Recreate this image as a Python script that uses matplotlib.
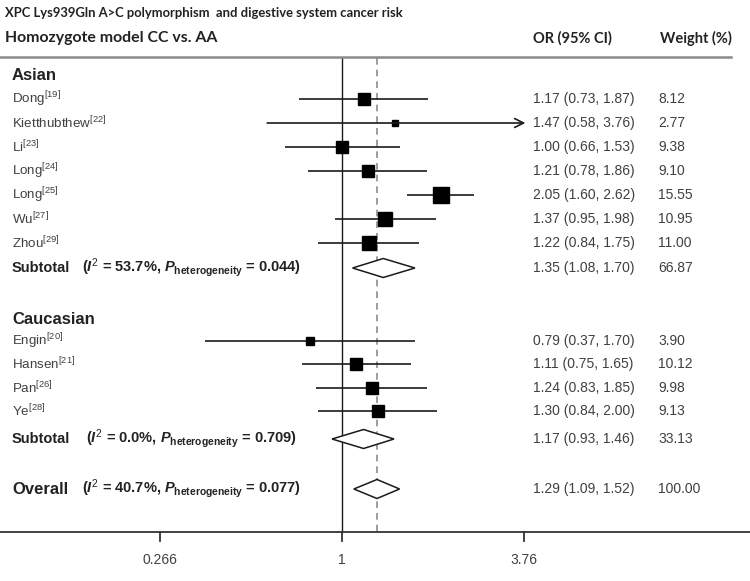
import numpy as np
import matplotlib
matplotlib.use('Agg')
import matplotlib.pyplot as plt
import matplotlib.transforms as mtransforms

plt.rcParams['font.family'] = ['Liberation Sans', 'DejaVu Sans']
plt.rcParams['mathtext.fontset'] = 'custom'
plt.rcParams['mathtext.rm'] = 'Liberation Sans'
plt.rcParams['mathtext.it'] = 'Liberation Sans:italic:bold'
plt.rcParams['mathtext.bf'] = 'Liberation Sans:bold'

# data
asian_names = ["Dong", "Kietthubthew", "Li", "Long", "Long", "Wu", "Zhou"]
asian_refs = [19, 22, 23, 24, 25, 27, 29]
asian_or = [1.17, 1.47, 1.00, 1.21, 2.05, 1.37, 1.22]
asian_lo = [0.73, 0.58, 0.66, 0.78, 1.60, 0.95, 0.84]
asian_hi = [1.87, 3.76, 1.53, 1.86, 2.62, 1.98, 1.75]
asian_wt = [8.12, 2.77, 9.38, 9.10, 15.55, 10.95, 11.00]

cauc_names = ["Engin", "Hansen", "Pan", "Ye"]
cauc_refs = [20, 21, 26, 28]
cauc_or = [0.79, 1.11, 1.24, 1.30]
cauc_lo = [0.37, 0.75, 0.83, 0.84]
cauc_hi = [1.70, 1.65, 1.85, 2.00]
cauc_wt = [3.90, 10.12, 9.98, 9.13]

# subtotal / overall: OR, lo, hi, weight, I2, P
sub_asian = [1.35, 1.08, 1.70, 66.87, "53.7", "0.044"]
sub_cauc = [1.17, 0.93, 1.46, 33.13, "0.0", "0.709"]
overall = [1.29, 1.09, 1.52, 100.00, "40.7", "0.077"]

xticks = [0.266, 1, 3.76]
xtick_labels = ["0.266", "1", "3.76"]

W, H = 750, 581
fig = plt.figure(figsize=(W / 100, H / 100), dpi=100)
ax = fig.add_axes([0, 0, 1, 1])
ax.set_xscale('log')
# 0.266 sits at x=159 px, 3.76 at x=523 px
pxl = (523 - 159) / np.log(3.76 / 0.266)
ax.set_xlim(np.exp(-342 / pxl), np.exp((W - 342) / pxl))
ax.set_ylim(H, 0)
ax.axis('off')

tx = mtransforms.blended_transform_factory(ax.transAxes, ax.transData)
def px(x):
    return x / W

txt_col = '#404040'
dark = '#222222'
line_col = '#1a1a1a'
xmax_axis = xticks[-1]


def study_row(y, name, ref, o, lo, hi, wt):
    ax.text(px(12), y, name + r"$^{\mathrm{[%d]}}$" % ref, transform=tx,
            fontsize=9.6, color=txt_col, va='center')
    if hi >= xmax_axis:
        ax.annotate('', xy=(xmax_axis * 1.01, y), xytext=(lo, y),
                    arrowprops=dict(arrowstyle='->', lw=1.2, color=line_col,
                                    mutation_scale=16, shrinkA=0, shrinkB=0))
    else:
        ax.plot([lo, hi], [y, y], color=line_col, lw=1.2, solid_capstyle='butt')
    ax.plot(o, y, marker='s', ms=2.9 * np.sqrt(wt), color='black', mec='black')
    ax.text(px(533), y, "%.2f (%.2f, %.2f)" % (o, lo, hi), transform=tx,
            fontsize=10, color=txt_col, va='center')
    ax.text(px(658), y, "%.2f" % wt, transform=tx, fontsize=10,
            color=txt_col, va='center')


def pooled_row(y, label, vals, lsize, sx):
    o, lo, hi, wt, i2, p = vals
    ax.text(px(12), y, label, transform=tx, fontsize=lsize, fontweight='bold',
            color=dark, va='center')
    ax.text(px(sx), y,
            r"($\mathit{I}^{2}$ = %s%%, $\mathit{P}_{\mathbf{heterogeneity}}$ = %s)" % (i2, p),
            transform=tx, fontsize=10.5, fontweight='bold', color=dark,
            va='center')
    ax.fill([lo, o, hi, o, lo], [y, y - 9.5, y, y + 9.5, y], facecolor='white',
            edgecolor=line_col, lw=1.1, zorder=3)
    ax.text(px(533), y, "%.2f (%.2f, %.2f)" % (o, lo, hi), transform=tx,
            fontsize=10, color=txt_col, va='center')
    ax.text(px(658), y, "%.2f" % wt, transform=tx, fontsize=10,
            color=txt_col, va='center')


# headers
ax.text(px(5), 13, "XPC Lys939Gln A>C polymorphism  and digestive system cancer risk",
        transform=tx, fontsize=9.4, fontweight='bold', family='Lato',
        color=dark, va='center')
ax.text(px(5), 38, "Homozygote model CC vs. AA", transform=tx, fontsize=11.4,
        fontweight='bold', family='Lato', color=dark, va='center')
ax.text(px(533), 38, "OR (95% CI)", transform=tx, fontsize=10.5,
        fontweight='bold', family='Lato', color=dark, va='center')
ax.text(px(660), 38, "Weight (%)", transform=tx, fontsize=10.5,
        fontweight='bold', family='Lato', color=dark, va='center')
ax.plot([0, px(731)], [57, 57], transform=tx, color='#8a8a8a', lw=1.8)

# reference lines
ax.plot([1, 1], [58, 532], color=line_col, lw=1.0, zorder=1)
ax.plot([overall[0], overall[0]], [58, 532], color='#8c8c8c', lw=1.2,
        ls=(0, (4, 3)), zorder=1)

# Asian group
ax.text(px(12), 76, "Asian", transform=tx, fontsize=12, fontweight='bold',
        color=dark, va='center')
for i in range(len(asian_names)):
    study_row(99 + i * 24, asian_names[i], asian_refs[i], asian_or[i],
              asian_lo[i], asian_hi[i], asian_wt[i])
pooled_row(268, "Subtotal", sub_asian, 10.5, 82)

# Caucasian group
ax.text(px(12), 319, "Caucasian", transform=tx, fontsize=12, fontweight='bold',
        color=dark, va='center')
for i in range(len(cauc_names)):
    study_row(341 + i * 23.3, cauc_names[i], cauc_refs[i], cauc_or[i],
              cauc_lo[i], cauc_hi[i], cauc_wt[i])
pooled_row(439, "Subtotal", sub_cauc, 10.5, 86)

pooled_row(489, "Overall", overall, 12, 82)

# x axis
ax.plot([0, 1], [532, 532], transform=tx, color='#333333', lw=1.3)
for t, lab in zip(xticks, xtick_labels):
    ax.plot([t, t], [532, 541], color='#333333', lw=1.3)
    ax.text(t, 560, lab, fontsize=10, color=txt_col, ha='center', va='center')

fig.savefig('out.png', dpi=100)
